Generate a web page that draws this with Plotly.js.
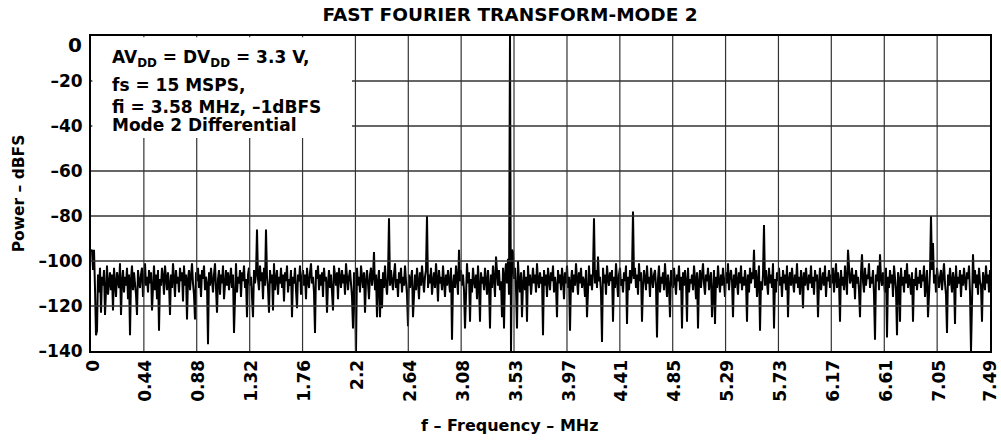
<!DOCTYPE html>
<html>
<head>
<meta charset="utf-8">
<script src="https://cdn.plot.ly/plotly-3.0.1.min.js"></script>
<style>
  html, body { margin: 0; padding: 0; background: #ffffff; }
  #chart { width: 1001px; height: 440px; }
</style>
</head>
<body>
<div id="chart"></div>
<script>
// ---- Data ----
const chartTitle = "FAST FOURIER TRANSFORM-MODE 2";
const xTitle = "f – Frequency – MHz";
const yTitle = "Power – dBFS";
const halfSampleRate = 7.5; // MHz, last bin of the spectrum

// Frequency tick positions (MHz) and their printed labels
const xTickVals = [0, 0.441, 0.882, 1.324, 1.765, 2.206, 2.647, 3.088, 3.529, 3.971, 4.412, 4.853, 5.294, 5.735, 6.176, 6.618, 7.059, 7.49];
const xTickText = ["0", "0.44", "0.88", "1.32", "1.76", "2.2", "2.64", "3.08", "3.53", "3.97", "4.41", "4.85", "5.29", "5.73", "6.17", "6.61", "7.05", "7.49"];

// Power tick positions (dBFS) and labels
const yTickVals = [-140, -120, -100, -80, -60, -40, -20];
const yTickText = ["–140", "–120", "–100", "–80", "–60", "–40", "–20"];

// Spectrum power per FFT bin, dBFS (left to right)
const powerDb = [
  -96,-95,-104,-95,-112,-133,-131,-106,-114,-103,
  -123,-107,-111,-104,-124,-109,-102,-115,-108,-105,
  -113,-106,-122,-103,-110,-116,-105,-108,-112,-101,
  -124,-109,-104,-114,-107,-111,-103,-117,-106,-133,
  -108,-102,-113,-105,-110,-115,-124,-104,-109,-112,
  -106,-103,-116,-108,-101,-111,-107,-114,-104,-110,
  -105,-122,-109,-102,-113,-106,-117,-104,-131,-108,
  -111,-103,-107,-115,-102,-109,-113,-105,-110,-124,
  -106,-112,-101,-108,-116,-104,-110,-107,-114,-103,
  -109,-105,-118,-102,-111,-106,-126,-108,-104,-113,
  -107,-101,-110,-115,-126,-105,-109,-103,-112,-106,
  -116,-104,-108,-102,-113,-107,-110,-137,-105,-111,
  -103,-109,-114,-106,-101,-112,-123,-108,-104,-115,
  -106,-110,-102,-117,-107,-104,-111,-105,-113,-108,
  -103,-112,-106,-132,-109,-101,-114,-107,-110,-104,
  -116,-105,-109,-102,-112,-108,-125,-106,-103,-111,
  -107,-114,-125,-104,-110,-106,-86,-108,-113,-102,
  -109,-105,-117,-103,-111,-86,-107,-112,-123,-104,
  -110,-106,-122,-101,-113,-108,-104,-115,-107,-110,
  -103,-112,-106,-118,-105,-109,-102,-114,-108,-111,
  -104,-125,-107,-110,-103,-113,-121,-106,-109,-102,
  -115,-108,-104,-111,-106,-117,-103,-109,-112,-105,
  -101,-110,-107,-114,-132,-104,-108,-102,-113,-106,
  -111,-105,-116,-103,-109,-107,-123,-110,-104,-112,
  -106,-114,-122,-102,-108,-111,-105,-117,-103,-109,
  -112,-104,-110,-106,-115,-101,-108,-113,-107,-104,
  -110,-116,-130,-105,-109,-140,-103,-111,-107,-114,
  -102,-108,-112,-105,-123,-109,-104,-110,-117,-106,
  -103,-111,-107,-96,-113,-106,-125,-109,-104,-125,
  -108,-121,-105,-112,-102,-110,-115,-107,-81,-111,
  -104,-109,-113,-106,-101,-112,-108,-116,-105,-110,
  -103,-114,-107,-111,-102,-109,-115,-129,-106,-112,
  -108,-104,-125,-110,-106,-113,-103,-109,-117,-105,
  -111,-102,-108,-114,-107,-104,-80,-112,-106,-110,
  -103,-115,-109,-105,-112,-101,-108,-118,-104,-110,
  -107,-113,-102,-109,-116,-106,-111,-104,-108,-114,
  -103,-135,-110,-106,-112,-102,-108,-115,-95,-109,
  -104,-111,-106,-113,-130,-107,-101,-110,-105,-127,
  -108,-114,-103,-109,-112,-106,-117,-102,-111,-127,
  -105,-110,-107,-113,-103,-109,-115,-104,-111,-130,
  -106,-112,-102,-108,-116,-98,-107,-111,-104,-113,
  -109,-125,-103,-130,-106,-101,-110,-99,-115,0,
  -140,-95,-96,-108,-103,-112,-130,-100,-109,-114,
  -105,-125,-110,-104,-113,-107,-127,-102,-111,-106,
  -115,-108,-103,-110,-106,-114,-101,-109,-112,-105,
  -110,-107,-133,-104,-111,-106,-116,-103,-108,-113,
  -105,-109,-102,-114,-107,-111,-125,-104,-110,-106,
  -113,-103,-108,-117,-105,-110,-102,-112,-107,-131,
  -109,-104,-114,-106,-111,-101,-108,-115,-105,-110,
  -103,-112,-107,-109,-116,-104,-125,-108,-102,-111,
  -106,-113,-105,-81,-110,-104,-112,-98,-109,-107,
  -114,-136,-103,-110,-106,-115,-102,-108,-111,-105,
  -109,-104,-127,-107,-112,-101,-110,-116,-106,-103,
  -111,-108,-114,-105,-109,-102,-128,-107,-113,-104,
  -110,-106,-78,-108,-103,-112,-106,-115,-101,-109,
  -105,-127,-111,-104,-108,-113,-102,-110,-107,-116,
  -103,-109,-112,-106,-104,-111,-134,-108,-102,-114,
  -107,-110,-105,-113,-101,-109,-116,-106,-111,-125,
  -104,-108,-112,-103,-110,-115,-106,-109,-102,-113,
  -107,-130,-105,-111,-104,-109,-127,-103,-114,-108,
  -110,-106,-113,-102,-108,-117,-105,-130,-109,-104,
  -112,-107,-101,-110,-115,-106,-109,-103,-113,-108,
  -105,-125,-110,-104,-128,-107,-112,-102,-109,-114,
  -106,-111,-103,-108,-116,-105,-110,-101,-113,-107,
  -104,-109,-125,-106,-112,-103,-108,-115,-105,-110,
  -102,-113,-107,-111,-104,-109,-127,-106,-114,-103,
  -110,-105,-108,-95,-112,-104,-116,-107,-102,-131,
  -109,-113,-106,-84,-111,-104,-108,-115,-103,-110,
  -106,-112,-101,-130,-108,-114,-105,-109,-103,-111,
  -107,-116,-104,-110,-106,-113,-102,-125,-108,-105,
  -111,-103,-109,-114,-106,-110,-101,-112,-107,-115,
  -104,-108,-121,-105,-111,-103,-109,-113,-106,-110,
  -102,-112,-107,-115,-104,-109,-106,-125,-110,-103,
  -113,-108,-105,-111,-102,-116,-107,-109,-104,-112,
  -106,-110,-103,-114,-108,-101,-112,-105,-109,-127,
  -104,-111,-107,-113,-102,-109,-115,-95,-106,-110,
  -108,-103,-112,-106,-117,-104,-110,-107,-113,-125,
  -105,-97,-109,-114,-103,-111,-106,-108,-101,-112,
  -107,-110,-104,-115,-135,-106,-109,-102,-113,-97,
  -108,-111,-105,-109,-114,-103,-134,-107,-112,-104,
  -110,-106,-116,-102,-109,-113,-133,-105,-108,-127,
  -103,-111,-107,-114,-104,-110,-101,-112,-106,-109,
  -115,-105,-127,-108,-111,-103,-113,-107,-110,-104,
  -112,-106,-109,-102,-116,-108,-104,-125,-111,-105,
  -80,-104,-92,-110,-106,-114,-103,-109,-112,-107,
  -104,-113,-108,-101,-110,-115,-132,-106,-111,-103,
  -109,-114,-105,-108,-128,-102,-112,-107,-110,-104,
  -116,-106,-111,-103,-109,-113,-105,-108,-102,-114,
  -140,-107,-97,-110,-104,-112,-106,-115,-103,-109,
  -111,-127,-105,-108,-113,-102,-110,-106,-114,-104
];

// Test conditions printed in the box
const noteLines = [
  "AV<sub>DD</sub> = DV<sub>DD</sub> = 3.3 V,",
  "fs = 15 MSPS,",
  "fi = 3.58 MHz, –1dBFS",
  "Mode 2 Differential"
];

// ---- Build chart ----
// FFT bin frequencies: evenly spaced bins from 0 to fs/2
const binFreq = powerDb.map((_, i) => i * halfSampleRate / (powerDb.length - 1));

const FONT = "DejaVu Sans, Liberation Sans, Arial, sans-serif";
const GRID = "#333333";

const trace = {
  type: "scatter",
  mode: "lines",
  x: binFreq,
  y: powerDb,
  line: { color: "#000000", width: 2 },
  hoverinfo: "skip"
};

const shapes = [];
// grid lines drawn above the trace (as in the reference); skip the two border ticks
xTickVals.forEach((v, k) => {
  if (k > 0 && k < xTickVals.length - 1) {
    shapes.push({ type: "line", xref: "x", yref: "y", x0: v, x1: v, y0: -140, y1: 0,
                  line: { color: GRID, width: 1.2 }, layer: "above" });
  }
});
yTickVals.forEach(v => {
  if (v > -140) {
    shapes.push({ type: "line", xref: "x", yref: "y", x0: 0, x1: halfSampleRate, y0: v, y1: v,
                  line: { color: GRID, width: 1.5 }, layer: "above" });
  }
});
// white box behind the test conditions
shapes.push({ type: "rect", xref: "paper", yref: "paper", x0: 0.0015, x1: 0.2903, y0: 0.676, y1: 0.996,
              fillcolor: "#ffffff", line: { width: 0 }, layer: "above" });

const noteY = [0.930, 0.844, 0.775, 0.717];
const annotations = noteLines.map((t, k) => ({
  text: t, xref: "paper", yref: "paper", x: 0.021, y: noteY[k],
  xanchor: "left", yanchor: "middle", showarrow: false, align: "left",
  font: { family: FONT, size: 17, color: "#000", weight: "bold" }
}));
annotations.push(
  { text: xTitle, xref: "paper", yref: "paper", x: 0.466, y: -0.235, xanchor: "center", yanchor: "middle",
    showarrow: false, font: { family: FONT, size: 16, color: "#000", weight: "bold" } },
  { text: "0", xref: "paper", yref: "paper", x: -0.008, y: 0.971, xanchor: "right", yanchor: "middle",
    showarrow: false, font: { family: FONT, size: 20, color: "#000", weight: "bold" } }
);

const layout = {
  width: 1001, height: 440,
  margin: { l: 91, r: 11, t: 36, b: 89, pad: 0 },
  paper_bgcolor: "#ffffff", plot_bgcolor: "#ffffff",
  showlegend: false,
  font: { family: FONT, color: "#000", weight: "bold" },
  title: {
    text: chartTitle, xref: "container", yref: "container",
    x: 0.5095, xanchor: "center", y: 0.968, yanchor: "middle",
    font: { family: FONT, size: 18.5, color: "#000", weight: "bold" }
  },
  xaxis: {
    range: [0, halfSampleRate], tickmode: "array", tickvals: xTickVals, ticktext: xTickText,
    tickangle: -90, ticks: "", showgrid: false, zeroline: false,
    showline: true, mirror: true, linecolor: "#000", linewidth: 2,
    tickfont: { family: FONT, size: 17, color: "#000", weight: "bold" },
    ticklabelstandoff: 0, ticklabelshift: 2, ticklabeloverflow: "allow", fixedrange: true
  },
  yaxis: {
    range: [-140, 0], tickmode: "array", tickvals: yTickVals, ticktext: yTickText,
    ticks: "", showgrid: false, zeroline: false,
    showline: true, mirror: true, linecolor: "#000", linewidth: 2,
    tickfont: { family: FONT, size: 17, color: "#000", weight: "bold" },
    ticklabelstandoff: 3, fixedrange: true,
    title: { text: yTitle, standoff: 10, font: { family: FONT, size: 15.5, color: "#000", weight: "bold" } }
  },
  shapes: shapes,
  annotations: annotations
};

Plotly.newPlot("chart", [trace], layout, { displayModeBar: false, staticPlot: true });
</script>
</body>
</html>
